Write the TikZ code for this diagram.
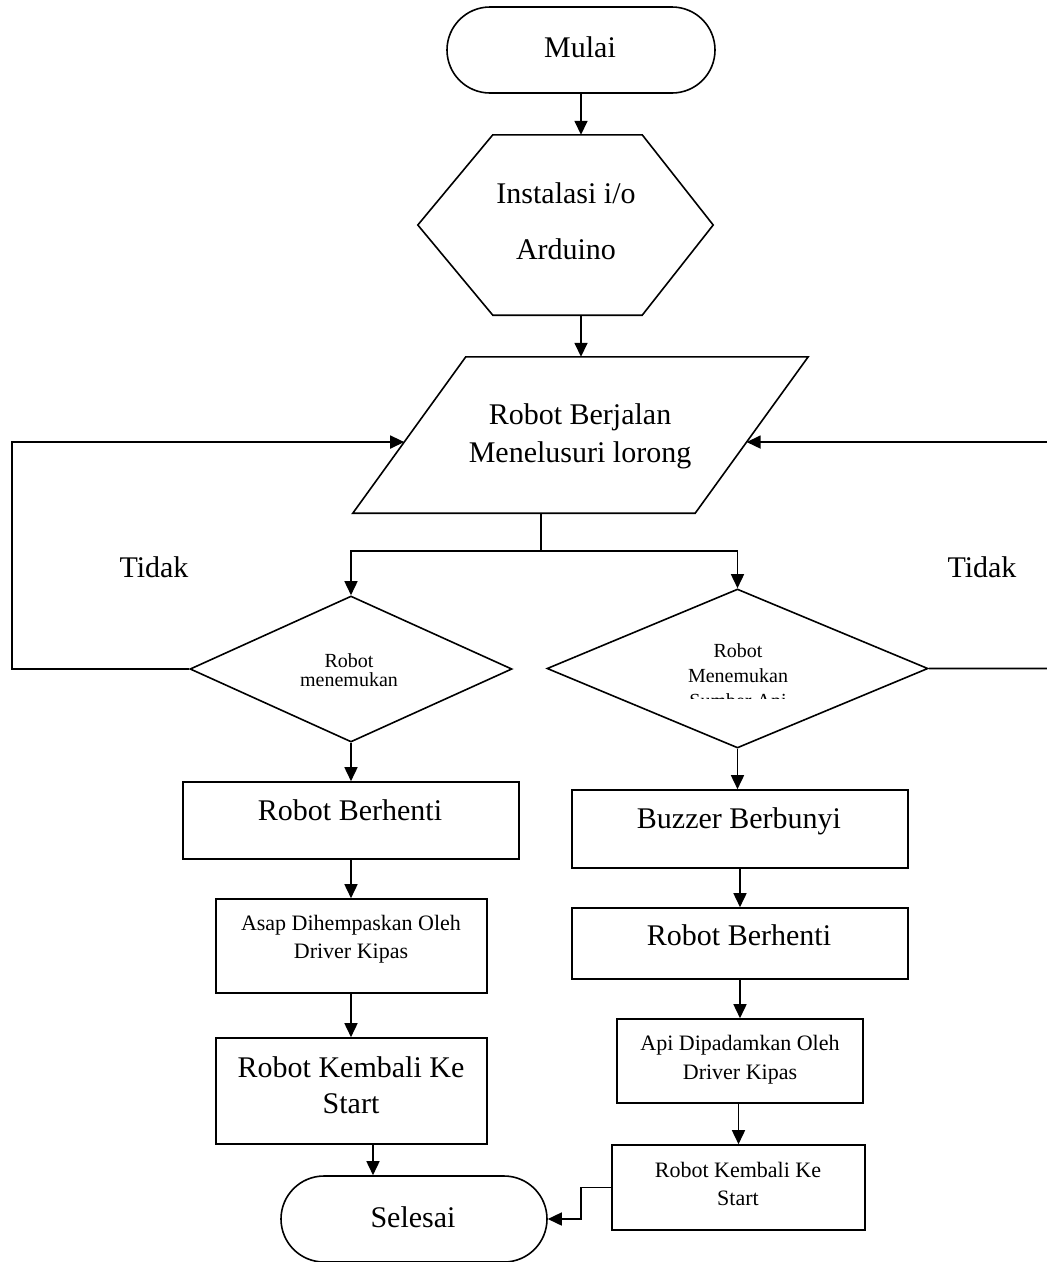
\documentclass[tikz,border=0pt]{standalone}
\usepackage{fontspec}
\setmainfont{Liberation Serif}
\usetikzlibrary{shapes.geometric,shapes.misc,arrows.meta,calc}

\begin{document}
\begin{tikzpicture}[x=1pt,y=-1pt,
  outline/.style={draw, line width=1.6pt},
  shapeline/.style={draw, line width=1.6pt, inner sep=0pt},
  box/.style={shapeline, rectangle},
  term/.style={shapeline, rounded rectangle},
  decision/.style={shapeline, diamond},
  frame/.style={rectangle, draw=none, inner sep=0pt},
  big/.style={font=\fontsize{30}{36}\selectfont, anchor=base, inner sep=0pt},
  mid/.style={font=\fontsize{22}{26}\selectfont, anchor=base, inner sep=0pt},
  small/.style={font=\fontsize{20}{24}\selectfont, anchor=base, inner sep=0pt},
  flow/.style={line width=1.6pt, -{Triangle[length=14pt,width=13pt]}},
  link/.style={line width=1.6pt}
]
\useasboundingbox (0,0) rectangle (1047,1262);

% start / end terminals
\node[term, minimum width=268pt, minimum height=86pt] (mulai) at (581,50) {};
\node[term, minimum width=266pt, minimum height=86pt] (sel) at (414,1219) {};

% initialisation hexagon
\node[frame, minimum width=295pt, minimum height=180pt] (hex) at (565.5,225) {};
\draw[outline] (hex.west) -- ([xshift=75pt]hex.north west) -- ([xshift=-71pt]hex.north east)
  -- (hex.east) -- ([xshift=-71pt]hex.south east) -- ([xshift=75pt]hex.south west) -- cycle;

% input/output parallelogram
\node[frame, minimum width=455pt, minimum height=156pt] (para) at (580.5,435) {};
\draw[outline] ([xshift=113pt]para.north west) -- (para.north east)
  -- ([xshift=-113pt]para.south east) -- (para.south west) -- cycle;
\coordinate (pl) at ($(para.south west)!0.455!([xshift=113pt]para.north west)$);
\coordinate (pr) at ($([xshift=-113pt]para.south east)!0.455!(para.north east)$);

% decisions
\node[decision, minimum width=322pt, minimum height=146pt] (ld) at (351,669) {};
\node[decision, minimum width=381pt, minimum height=159pt] (rd) at (737.5,668.5) {};

% left branch
\node[box, minimum width=336pt, minimum height=77pt] (lb1) at (351,820.5) {};
\node[box, minimum width=271pt, minimum height=94pt] (lb2) at (351.5,946) {};
\node[box, minimum width=271pt, minimum height=106pt] (lb3) at (351.5,1091) {};

% right branch
\node[box, minimum width=336pt, minimum height=78pt] (rb1) at (740,829) {};
\node[box, minimum width=336pt, minimum height=71pt] (rb2) at (740,943.5) {};
\node[box, minimum width=246pt, minimum height=84pt] (rb3) at (740,1061) {};
\node[box, minimum width=253pt, minimum height=85pt] (rb4) at (738.5,1187.5) {};

% connectors
\draw[flow] (mulai.south) -- (mulai.south |- hex.north);
\draw[flow] (mulai.south |- hex.south) -- (mulai.south |- para.north);
\coordinate (split) at (541,551);
\draw[link] (split |- para.south) -- (split);
\draw[flow] (split) -| (ld.north);
\draw[flow] (split) -| (rd.north);
\coordinate (lx) at (12,442);
\draw[flow] (ld.west) -| (lx) -- (pl);
\coordinate (rx) at (1049,442);
\draw[flow] (rd.east) -| (rx) -- (pr);

\draw[flow] (ld.south) -- (ld.south |- lb1.north);
\draw[flow] (lb1.south) -- (lb1.south |- lb2.north);
\draw[flow] (lb1.south |- lb2.south) -- (lb1.south |- lb3.north);
\draw[flow] ([xshift=21.5pt]lb3.south) -- ([xshift=21.5pt]lb3.south |- sel.north);

\draw[flow] (rd.south) -- (rd.south |- rb1.north);
\draw[flow] (rb1.south) -- (rb2.north);
\draw[flow] (rb2.south) -- (rb3.north);
\draw[flow] (rb4.north |- rb3.south) -- (rb4.north);
\draw[flow] (rb4.west) -- ++(-30pt,0) |- (sel.east);

% texts
\node[big] (t-mulai) at (580,57) {Mulai};
\node[big] (t-hex1) at (566,203) {Instalasi i/o};
\node[big] (t-hex2) at (566,259) {Arduino};
\node[big] (t-para1) at (580,424) {Robot Berjalan};
\node[big] (t-para2) at (580,462) {Menelusuri lorong};
\node[big] (t-nol) at (154,577) {Tidak};
\node[big] (t-nor) at (982,577) {Tidak};
\node[small] (t-ld1) at (349,667) {Robot};
\node[small] (t-ld2) at (349,686) {menemukan};
\begin{scope}
  \clip (560,630) rectangle (920,698);
  \node[small] (t-rd1) at (738,657) {Robot};
  \node[small] (t-rd2) at (738,682) {Menemukan};
  \node[small] (t-rd3) at (738,707) {Sumber Api};
\end{scope}
\node[big] (t-lb1) at (350,820) {Robot Berhenti};
\node[mid] (t-lb2a) at (351,930) {Asap Dihempaskan Oleh};
\node[mid] (t-lb2b) at (351,958) {Driver Kipas};
\node[big] (t-lb3a) at (351,1077) {Robot Kembali Ke};
\node[big] (t-lb3b) at (351,1113) {Start};
\node[big] (t-rb1) at (739,828) {Buzzer Berbunyi};
\node[big] (t-rb2) at (739,945) {Robot Berhenti};
\node[mid] (t-rb3a) at (740,1050) {Api Dipadamkan Oleh};
\node[mid] (t-rb3b) at (740,1079) {Driver Kipas};
\node[mid] (t-rb4a) at (738,1177) {Robot Kembali Ke};
\node[mid] (t-rb4b) at (738,1205) {Start};
\node[big] (t-sel) at (413,1227) {Selesai};
\end{tikzpicture}
\end{document}
